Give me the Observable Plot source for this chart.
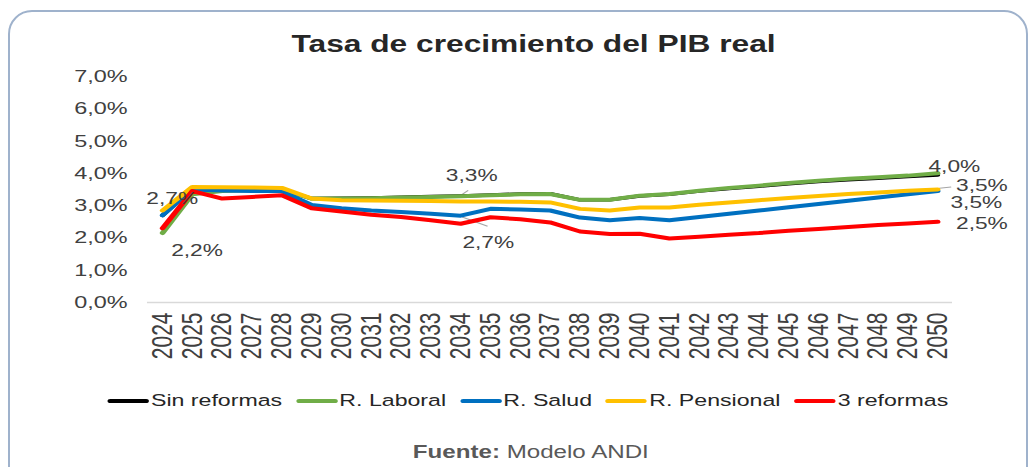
<!DOCTYPE html>
<html>
<head>
<meta charset="utf-8">
<script src="https://cdn.jsdelivr.net/npm/d3@7"></script>
<script src="https://cdn.jsdelivr.net/npm/@observablehq/plot@0.6"></script>
<style>
  html, body { margin: 0; padding: 0; background: #ffffff; width: 1034px; height: 467px; overflow: hidden; }
  #frame { position: absolute; left: 8px; top: 10px; width: 1020px; height: 490px; border: 2px solid #9fb2cc; border-radius: 24px; box-sizing: border-box; }
  #wrap { position: absolute; left: 0; top: 0; width: 750px; height: 467px; transform: scaleX(1.3787); transform-origin: 0 0; font-family: "Liberation Sans", Arial, sans-serif; }
  #title { position: absolute; left: 0; top: 33px; width: 750px; padding-left: 24px; box-sizing: border-box; text-align: center; font-size: 23px; line-height: 23px; font-weight: bold; color: #262626; white-space: nowrap; }
  #chart { position: absolute; left: 0; top: 60px; }
  #legend { position: absolute; left: 78px; top: 391px; display: flex; align-items: center; gap: 10px; font-size: 16.8px; line-height: 20px; color: #262626; white-space: nowrap; }
  .item { display: flex; align-items: center; }
  .sw { width: 30px; height: 4px; border-radius: 2px; margin-right: 1.5px; }
  #source { position: absolute; left: 0; top: 442px; width: 750px; padding-left: 20px; box-sizing: border-box; text-align: center; font-size: 17.5px; line-height: 20px; color: #595959; white-space: nowrap; }
</style>
</head>
<body>
<div id="frame"></div>
<div id="wrap">
  <div id="title">Tasa de crecimiento del PIB real</div>
  <div id="chart"></div>
  <div id="legend"></div>
  <div id="source"><b>Fuente:</b> Modelo ANDI</div>
</div>
<script>
// ---- data ----
const years = [2024, 2025, 2026, 2027, 2028, 2029, 2030, 2031, 2032, 2033, 2034, 2035, 2036, 2037, 2038, 2039, 2040, 2041, 2042, 2043, 2044, 2045, 2046, 2047, 2048, 2049, 2050];
const sinReformas  = [2.70, 3.55, 3.53, 3.52, 3.50, 3.22, 3.23, 3.24, 3.26, 3.28, 3.30, 3.33, 3.36, 3.37, 3.18, 3.18, 3.30, 3.35, 3.45, 3.53, 3.60, 3.68, 3.75, 3.80, 3.85, 3.90, 3.95];
const rLaboral     = [2.15, 3.35, 3.45, 3.48, 3.50, 3.22, 3.22, 3.23, 3.25, 3.27, 3.29, 3.32, 3.35, 3.36, 3.18, 3.18, 3.31, 3.36, 3.46, 3.55, 3.62, 3.70, 3.77, 3.83, 3.88, 3.93, 4.00];
const rSalud       = [2.70, 3.50, 3.47, 3.45, 3.45, 3.02, 2.92, 2.85, 2.80, 2.75, 2.69, 2.90, 2.88, 2.85, 2.63, 2.55, 2.62, 2.55, 2.65, 2.75, 2.85, 2.95, 3.05, 3.15, 3.25, 3.35, 3.45];
const rPensional   = [2.85, 3.58, 3.57, 3.56, 3.55, 3.22, 3.17, 3.16, 3.15, 3.14, 3.13, 3.13, 3.12, 3.10, 2.90, 2.85, 2.94, 2.94, 3.03, 3.10, 3.17, 3.24, 3.30, 3.36, 3.41, 3.46, 3.50];
const tresReformas = [2.30, 3.45, 3.22, 3.27, 3.32, 2.92, 2.82, 2.72, 2.65, 2.55, 2.44, 2.64, 2.58, 2.48, 2.20, 2.12, 2.13, 1.98, 2.04, 2.10, 2.15, 2.22, 2.28, 2.34, 2.40, 2.45, 2.50];
const seriesNames  = ["Sin reformas", "R. Laboral", "R. Salud", "R. Pensional", "3 reformas"];
const seriesColors = ["#000000", "#70ad47", "#0070c0", "#ffc000", "#ff0000"];
const yTicks = [0, 1, 2, 3, 4, 5, 6, 7];
// data labels: series index, year, text
const labelSeries = [0, 1, 0, 2, 1, 3, 2, 4];
const labelYears  = [2024, 2024, 2034, 2034, 2050, 2050, 2050, 2050];
const labelTexts  = ["2,7%", "2,2%", "3,3%", "2,7%", "4,0%", "3,5%", "3,5%", "2,5%"];

const allSeries = [sinReformas, rLaboral, rSalud, rPensional, tresReformas];
const rows = [];
allSeries.forEach((vals, s) => years.forEach((yr, i) => rows.push({year: yr, value: vals[i], series: seriesNames[s]})));

const valueOf = (s, yr) => allSeries[s][years.indexOf(yr)];
// pixel offsets for each label (styling)
const labelOffsets = [[7, -17], [25, 18], [8, -20], [20, 27], [12, -7], [32, -4], [28, 12], [32, 2]];

const fmt = d => d.toFixed(1).replace(".", ",") + "%";

const marks = [
  Plot.ruleY([0], {stroke: "#d9d9d9", strokeWidth: 1.5}),
  // leader lines (from series point toward the label)
  Plot.link([{x1: 2034.05, y1: valueOf(0, 2034) + 0.05, x2: 2034.25, y2: 3.47},
             {x1: 2034.05, y1: valueOf(2, 2034) - 0.04, x2: 2034.9, y2: 2.36},
             {x1: 2050.05, y1: valueOf(3, 2050) + 0.04, x2: 2050.45, y2: 3.58}],
            {x1: "x1", y1: "y1", x2: "x2", y2: "y2", stroke: "#a6a6a6", strokeWidth: 1})
];
seriesNames.forEach((name, s) => {
  marks.push(Plot.line(rows.filter(r => r.series === name), {
    x: "year", y: "value", stroke: seriesColors[s], strokeWidth: s === 0 ? 3.5 : 4, strokeLinejoin: "round", strokeLinecap: "round"
  }));
});
labelTexts.forEach((t, k) => {
  const s = labelSeries[k];
  marks.push(Plot.text([{year: labelYears[k], value: valueOf(s, labelYears[k]), t}], {
    x: "year", y: "value", text: "t", dx: labelOffsets[k][0], dy: labelOffsets[k][1],
    fill: "#404040", fontSize: 16.5, textAnchor: "middle"
  }));
});

const chart = Plot.plot({
  width: 750,
  height: 320,
  marginLeft: 106.6,
  marginRight: 59.5,
  marginTop: 16,
  marginBottom: 78,
  style: {fontFamily: "'Liberation Sans', Arial, sans-serif", fontSize: "17px", color: "#404040", background: "transparent", overflow: "visible"},
  x: {type: "linear", domain: [2023.5, 2050.5], ticks: years, tickFormat: d => String(d), tickRotate: -90, tickSize: 0, tickPadding: 10, label: null},
  y: {domain: [0, 7], ticks: yTicks, tickFormat: fmt, tickSize: 0, tickPadding: 14.5, label: null},
  marks
});
// x tick labels are set in a larger size than the y ones
chart.querySelectorAll('[aria-label="x-axis tick label"] text, [aria-label="x-axis"] text').forEach(t => t.setAttribute("font-size", "21"));
chart.querySelectorAll('[aria-label="x-axis tick label"], [aria-label="x-axis"]').forEach(g => g.setAttribute("font-size", "21"));
document.getElementById("chart").appendChild(chart);

// legend
const legend = document.getElementById("legend");
seriesNames.forEach((name, s) => {
  const item = document.createElement("div");
  item.className = "item";
  const sw = document.createElement("div");
  sw.className = "sw";
  sw.style.background = seriesColors[s];
  const lab = document.createElement("span");
  lab.textContent = name;
  item.appendChild(sw);
  item.appendChild(lab);
  legend.appendChild(item);
});
</script>
</body>
</html>
